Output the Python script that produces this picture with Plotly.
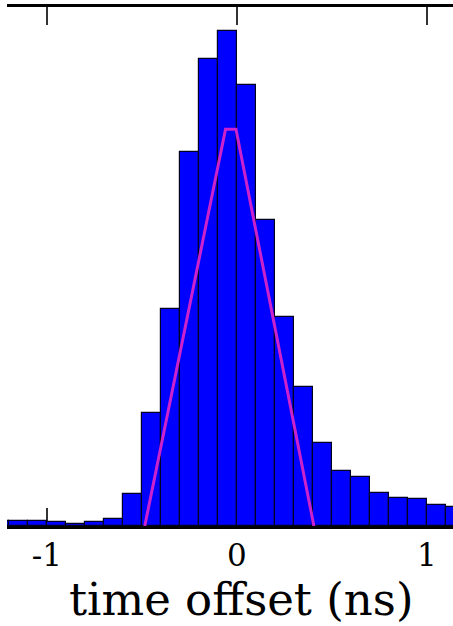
import plotly.graph_objects as go

# histogram bins (left edges, ns) and counts
bin_left = [-1.3, -1.2, -1.1, -1.0, -0.9, -0.8, -0.7, -0.6, -0.5, -0.4, -0.3, -0.2, -0.1,
            0.0, 0.1, 0.2, 0.3, 0.4, 0.5, 0.6, 0.7, 0.8, 0.9, 1.0, 1.1]
counts = [5, 5, 5, 4, 2, 4, 7, 32, 113, 217, 373, 466, 494,
          440, 305, 209, 139, 83, 55, 49, 33, 28, 27, 21, 19]
bin_width = 0.1

# instrument response (trapezoid) overlay
resp_x = [-0.485, -0.06, -0.005, 0.405]
resp_y = [0, 396, 396, 0]

tick_vals = [-1, 0, 1]
tick_text = ["-1", "0", "1"]
x_title = "time offset (ns)"

centers = [b + bin_width / 2 for b in bin_left]

fig = go.Figure()
fig.add_trace(go.Bar(
    x=centers, y=counts, width=bin_width,
    marker=dict(color="#0000ff", line=dict(color="#000020", width=1.2)),
    showlegend=False,
))
fig.add_trace(go.Scatter(
    x=resp_x, y=resp_y, mode="lines",
    line=dict(color="#cc22cc", width=3),
    showlegend=False, cliponaxis=True,
))

fig.update_layout(
    width=453, height=626,
    margin=dict(l=7, r=0, t=7, b=100),
    plot_bgcolor="white", paper_bgcolor="white",
    bargap=0,
    font=dict(family="DejaVu Serif", color="black"),
)
fig.update_xaxes(
    range=[-1.21, 1.137],
    tickvals=tick_vals, ticktext=tick_text,
    ticks="inside", ticklen=18, tickwidth=1.5, tickcolor="#333",
    showline=True, linecolor="black", linewidth=2.5, mirror="ticks",
    showgrid=False, zeroline=False,
    tickfont=dict(size=31, family="DejaVu Serif"),
    layer="below traces",
)
fig.update_yaxes(
    range=[0, 518], visible=False, showgrid=False, zeroline=False,
)
fig.add_annotation(
    text=x_title, xref="paper", yref="paper",
    x=0.525, y=-0.142, xanchor="center", yanchor="middle",
    showarrow=False, font=dict(size=45, family="DejaVu Serif", color="black"),
)

fig.write_html("out.html")
